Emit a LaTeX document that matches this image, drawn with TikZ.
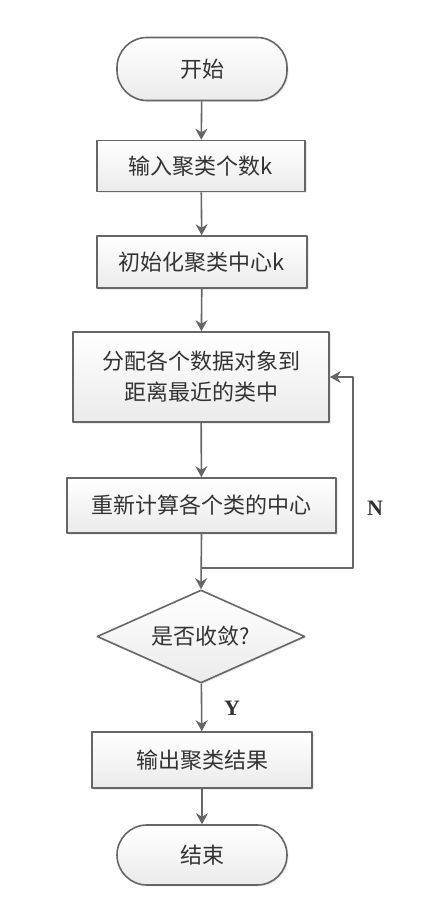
\documentclass[tikz,border=0pt]{standalone}
\usepackage{fontspec}
\setmainfont{Liberation Serif}
\newfontfamily\cjk{Noto Sans CJK SC}
\usetikzlibrary{arrows.meta,shapes.geometric,shadows}
\definecolor{linegray}{HTML}{666666}
\definecolor{textgray}{HTML}{333333}
\tikzset{
  base/.style={draw=linegray, line width=1.6pt, top color=white, bottom color=gray!16,
    text=textgray, font=\cjk\fontsize{22}{31}\selectfont, inner sep=0pt,
    drop shadow={shadow xshift=1.5pt, shadow yshift=-1.5pt, fill=gray!25, opacity=0.6}},
  stepbox/.style={base, rectangle, align=center},
  terminal/.style={base, rectangle, rounded corners=30pt},
  decision/.style={base, diamond, aspect=2.24},
  flow/.style={draw=linegray, line width=1.6pt},
  answer/.style={text=textgray, font=\bfseries\fontsize{22}{24}\selectfont}
}
\begin{document}
\begin{tikzpicture}[x=1pt, y=-1pt, line join=round, >={Stealth[length=11pt,width=12pt]}]
\useasboundingbox[fill=white] (0,0) rectangle (428,923);
\node[terminal, minimum width=170pt, minimum height=63pt] (start) at (202,69) {开始};
\node[stepbox, minimum width=208pt, minimum height=51pt] (input) at (201,166) {输入聚类个数k};
\node[stepbox, minimum width=210pt, minimum height=52pt] (init) at (202,262) {初始化聚类中心k};
\node[stepbox, minimum width=256pt, minimum height=90pt] (assign) at (201,377) {分配各个数据对象到\\距离最近的类中};
\node[stepbox, minimum width=269pt, minimum height=55pt] (update) at (201.5,505.5) {重新计算各个类的中心};
\node[decision, minimum width=208pt, minimum height=93pt] (conv) at (201,636.5) {是否收敛?};
\node[stepbox, minimum width=220pt, minimum height=56pt] (output) at (202,760) {输出聚类结果};
\node[terminal, minimum width=170pt, minimum height=60pt] (stop) at (202,855) {结束};
\coordinate (merge) at (201.5,568);
\coordinate (loop) at (353,568);
% main flow
\draw[flow, ->] (start) -- (input);
\draw[flow, ->] (input) -- (init);
\draw[flow, ->] (init) -- (assign);
\draw[flow, ->] (assign) -- (update);
\draw[flow, ->] (update.south) -- (conv.north);
\draw[flow, ->] (conv) -- (output);
\draw[flow, ->] (output) -- (stop);
% back edge
\draw[flow, ->] (merge) -- (loop) |- (assign.east);
\node[answer] (no) at (375,508) {N};
\node[answer] (yes) at (232,708) {Y};
\end{tikzpicture}
\end{document}
